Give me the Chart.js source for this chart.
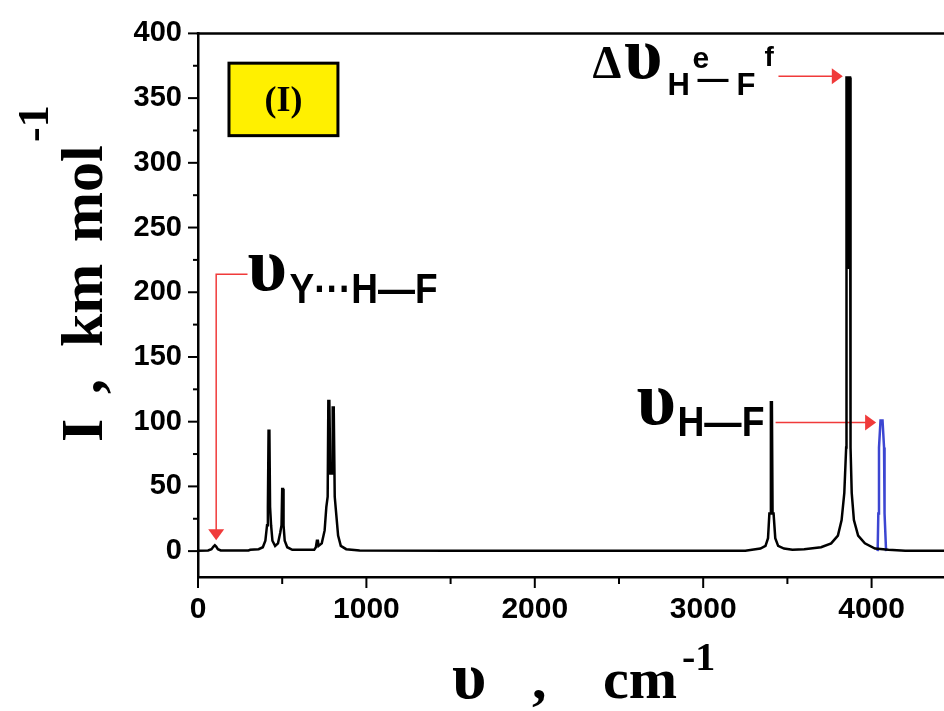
<!DOCTYPE html>
<html>
<head>
<meta charset="utf-8">
<script src="https://cdn.jsdelivr.net/npm/chart.js@4"></script>
<style>
html, body { margin: 0; padding: 0; background: #fff; overflow: hidden; }
</style>
</head>
<body>
<canvas id="spectrumChart" width="944" height="711"></canvas>
<script>
// wavenumber (cm-1) and intensity (km mol-1)
const blackWaveNumbers = [0, 60, 80, 92, 100, 108, 118, 135, 300, 310, 360, 385, 400, 410, 415, 419, 424, 428, 434, 442,
    458, 475, 488, 496, 500, 505, 508, 515, 530, 560, 690, 700, 706, 712, 716, 735, 752, 762, 770, 774,
    780, 786, 796, 800, 806, 812, 820, 832, 848, 880, 960, 1500, 2500, 3250, 3290, 3340, 3370, 3385, 3393, 3398,
    3402, 3408, 3412, 3418, 3428, 3445, 3480, 3530, 3600, 3700, 3760, 3800, 3822, 3838, 3849, 3851, 3858, 3860, 3864, 3866,
    3872, 3875, 3882, 3895, 3920, 3960, 4020, 4100, 4200, 4430];
const blackIntensities = [0.3, 0.5, 1.5, 3.5, 4.5, 3.5, 1.5, 0.5, 0.5, 1, 1.5, 3, 8, 20, 34, 93, 93, 34, 20, 8,
    4, 6, 14, 20, 48, 48, 20, 8, 3, 1, 1, 3, 8, 8, 4, 6, 16, 34, 42, 116,
    116, 60, 60, 111, 111, 42, 30, 12, 4, 1.5, 0.5, 0.3, 0.3, 0.3, 1, 2, 4, 10, 29, 29,
    115, 115, 29, 29, 10, 4, 2, 1, 1.5, 3, 6, 12, 24, 45, 80, 366, 366, 218, 218, 366,
    366, 80, 45, 24, 12, 6, 2, 1, 0.3, 0.3];
const blueWaveNumbers = [4036, 4040, 4044, 4053, 4065, 4074, 4077, 4086];
const blueIntensities = [0, 29, 80, 101, 101, 80, 29, 0];

const xMajorTicks = [0, 1000, 2000, 3000, 4000];
const xMinorTicks = [500, 1500, 2500, 3500];
const yMajorTicks = [0, 50, 100, 150, 200, 250, 300, 350, 400];
const yMinorTicks = [25, 75, 125, 175, 225, 275, 325, 375];

const SERIF = '"Liberation Serif", "Times New Roman", serif';
const SANS = '"Liberation Sans", Arial, sans-serif';
const RED = '#f03a3a';

// arrows and labels, anchored in data units
const redArrows = [
    [[294, 214], [108, 214], [108, 8.4]],
    [[3430, 99.3], [4027, 99.3]],
    [[3447, 366.8], [3829, 366.8]]
];
const labelPieces = [
    { text: 'υ', x: 294, y: 202, font: 'bold 76px ' + SERIF },
    { text: 'Y···H—F', x: 544, y: 192, font: 'bold 43px ' + SANS, maxW: 148 },
    { text: 'υ', x: 2604, y: 98.3, font: 'bold 76px ' + SERIF },
    { text: 'H—F', x: 2847, y: 89, font: 'bold 42px ' + SANS, maxW: 87 },
    { text: 'Δ', x: 2343, y: 365.5, font: 'bold 46px ' + SERIF },
    { text: 'υ', x: 2530, y: 365.5, font: 'bold 74px ' + SERIF, maxW: 44 },
    { text: 'H', x: 2788, y: 352.4, font: 'bold 31px ' + SANS, maxW: 25 },
    { text: 'e', x: 2936, y: 373, font: 'bold 30px ' + SANS, maxW: 25 },
    { text: '—', x: 2966, y: 357, font: 'bold 31px ' + SANS, maxW: 34 },
    { text: 'F', x: 3198, y: 352.4, font: 'bold 31px ' + SANS, maxW: 20 },
    { text: 'f', x: 3364, y: 374.7, font: 'bold 28px ' + SANS }
];
const tagBox = { x0: 184, x1: 831, y0: 377, y1: 321, text: '(I)' };

function toPoints(xs, ys) {
    return xs.map((x, i) => ({ x: x, y: ys[i] }));
}

function arrowHead(ctx, x0, y0, x1, y1) {
    const a = Math.atan2(y1 - y0, x1 - x0);
    const len = 11, half = 8;
    ctx.beginPath();
    ctx.moveTo(x1, y1);
    ctx.lineTo(x1 - len * Math.cos(a) + half * Math.sin(a), y1 - len * Math.sin(a) - half * Math.cos(a));
    ctx.lineTo(x1 - len * Math.cos(a) - half * Math.sin(a), y1 - len * Math.sin(a) + half * Math.cos(a));
    ctx.closePath();
    ctx.fill();
}

const decorPlugin = {
    id: 'decor',
    beforeDatasetsDraw(chart) {
        const { ctx, scales: { x, y } } = chart;
        ctx.save();
        ctx.strokeStyle = RED;
        ctx.fillStyle = RED;
        ctx.lineWidth = 1.5;
        redArrows.forEach(path => {
            const pts = path.map(p => [x.getPixelForValue(p[0]), y.getPixelForValue(p[1])]);
            const n = pts.length;
            const a = Math.atan2(pts[n - 1][1] - pts[n - 2][1], pts[n - 1][0] - pts[n - 2][0]);
            ctx.beginPath();
            ctx.moveTo(pts[0][0], pts[0][1]);
            for (let i = 1; i < n - 1; i++) ctx.lineTo(pts[i][0], pts[i][1]);
            ctx.lineTo(pts[n - 1][0] - 10 * Math.cos(a), pts[n - 1][1] - 10 * Math.sin(a));
            ctx.stroke();
            arrowHead(ctx, pts[n - 2][0], pts[n - 2][1], pts[n - 1][0], pts[n - 1][1]);
        });
        ctx.restore();
    },
    afterDraw(chart) {
        const { ctx, chartArea: area, scales: { x, y } } = chart;
        ctx.save();

        // top frame line
        ctx.strokeStyle = '#000';
        ctx.lineWidth = 2.5;
        ctx.beginPath();
        ctx.moveTo(area.left - 1.25, area.top);
        ctx.lineTo(area.right, area.top);
        ctx.stroke();

        // tick marks, long for labelled ticks, short for the others
        ctx.lineWidth = 2;
        x.ticks.forEach(t => {
            const px = x.getPixelForValue(t.value);
            const len = xMajorTicks.includes(t.value) ? 11 : 7;
            ctx.beginPath();
            ctx.moveTo(px, area.bottom);
            ctx.lineTo(px, area.bottom + len);
            ctx.stroke();
        });
        y.ticks.forEach(t => {
            const py = y.getPixelForValue(t.value);
            const len = yMajorTicks.includes(t.value) ? 10 : 5;
            ctx.beginPath();
            ctx.moveTo(area.left, py);
            ctx.lineTo(area.left - len, py);
            ctx.stroke();
        });

        // (I) tag
        const bx0 = x.getPixelForValue(tagBox.x0), bx1 = x.getPixelForValue(tagBox.x1);
        const by0 = y.getPixelForValue(tagBox.y0), by1 = y.getPixelForValue(tagBox.y1);
        ctx.fillStyle = '#fff000';
        ctx.fillRect(bx0, by0, bx1 - bx0, by1 - by0);
        ctx.lineWidth = 3;
        ctx.strokeStyle = '#000';
        ctx.strokeRect(bx0, by0, bx1 - bx0, by1 - by0);
        ctx.fillStyle = '#000';
        ctx.font = 'bold 36px ' + SERIF;
        ctx.textAlign = 'center';
        ctx.textBaseline = 'middle';
        ctx.fillText(tagBox.text, (bx0 + bx1) / 2, (by0 + by1) / 2 + 2);

        // peak labels
        ctx.textAlign = 'left';
        ctx.textBaseline = 'alphabetic';
        labelPieces.forEach(p => {
            ctx.font = p.font;
            const px = x.getPixelForValue(p.x), py = y.getPixelForValue(p.y);
            if (p.maxW) ctx.fillText(p.text, px, py, p.maxW);
            else ctx.fillText(p.text, px, py);
        });

        // x axis title
        ctx.font = 'bold 66px ' + SERIF;
        ctx.fillText('υ', 452, 698);
        ctx.font = 'bold 58px ' + SERIF;
        ctx.fillText(',', 532, 698);
        ctx.fillText('cm', 603, 698);
        ctx.font = 'bold 40px ' + SERIF;
        ctx.fillText('-1', 682, 670);

        // y axis title, rotated
        ctx.translate(102, 442);
        ctx.rotate(-Math.PI / 2);
        ctx.font = 'bold 60px ' + SERIF;
        ctx.fillText('I', 0, 0);
        ctx.fillText(',', 48, 0);
        ctx.fillText('km', 95, 0);
        ctx.fillText('mol', 200, 0);
        ctx.font = 'bold 44px ' + SERIF;
        ctx.fillText('-1', 300, -54);
        ctx.restore();
    }
};

const tickFont = (size) => ({ family: SANS, size: size, weight: 'bold' });

new Chart(document.getElementById('spectrumChart').getContext('2d'), {
    type: 'line',
    data: {
        datasets: [
            {
                data: toPoints(blackWaveNumbers, blackIntensities),
                borderColor: '#000',
                borderWidth: 2.5,
                pointRadius: 0,
                tension: 0
            },
            {
                data: toPoints(blueWaveNumbers, blueIntensities),
                borderColor: '#3c46d2',
                borderWidth: 2.5,
                pointRadius: 0,
                tension: 0
            }
        ]
    },
    options: {
        responsive: false,
        animation: false,
        devicePixelRatio: 1,
        layout: { padding: { top: 30, right: 0, bottom: 0, left: 0 } },
        plugins: { legend: { display: false }, tooltip: { enabled: false } },
        scales: {
            x: {
                type: 'linear',
                min: 0,
                max: 4430,
                afterBuildTicks: s => {
                    s.ticks = xMajorTicks.concat(xMinorTicks).sort((a, b) => a - b).map(v => ({ value: v }));
                },
                afterFit: s => { s.height = 134; },
                grid: { display: true, drawOnChartArea: false, drawTicks: false },
                border: { display: true, color: '#000', width: 2.5 },
                ticks: {
                    autoSkip: false,
                    maxRotation: 0,
                    padding: 15,
                    color: '#000',
                    font: tickFont(30),
                    callback: v => xMajorTicks.includes(v) ? String(v) : ''
                }
            },
            y: {
                min: -20,
                max: 400,
                afterBuildTicks: s => {
                    s.ticks = yMajorTicks.concat(yMinorTicks).sort((a, b) => a - b).map(v => ({ value: v }));
                },
                afterFit: s => { s.width = 198; },
                grid: { display: true, drawOnChartArea: false, drawTicks: false },
                border: { display: true, color: '#000', width: 2.5 },
                ticks: {
                    autoSkip: false,
                    padding: 16,
                    color: '#000',
                    font: tickFont(29),
                    callback: v => yMajorTicks.includes(v) ? String(v) : ''
                }
            }
        }
    },
    plugins: [decorPlugin]
});
</script>
</body>
</html>
